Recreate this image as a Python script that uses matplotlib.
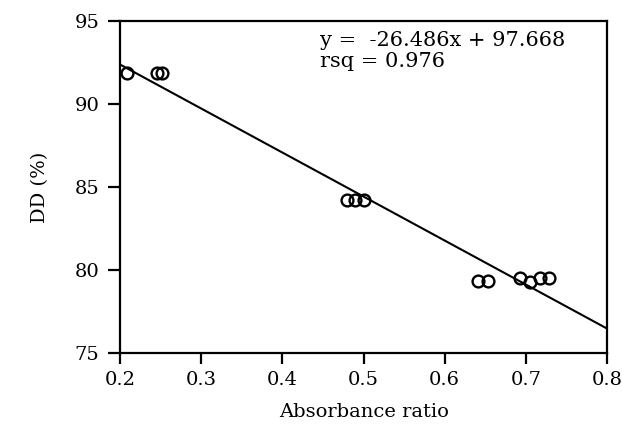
import numpy as np
import matplotlib
matplotlib.use("Agg")
import matplotlib.pyplot as plt

absorbance = [0.209, 0.245, 0.252,
              0.480, 0.490, 0.501,
              0.641, 0.653,
              0.693, 0.705, 0.717, 0.728]
dd_percent = [91.85, 91.85, 91.85,
              84.2, 84.2, 84.2,
              79.35, 79.35,
              79.5, 79.3, 79.5, 79.5]

# regression reported on the chart
fit_slope = -26.486
fit_intercept = 97.668
fit_rsq = 0.976

x_ticks = [0.2, 0.3, 0.4, 0.5, 0.6, 0.7, 0.8]
y_ticks = [75, 80, 85, 90, 95]

plt.rcParams['font.family'] = ['DejaVu Serif']

fig = plt.figure(figsize=(6.22, 4.25), dpi=100)
ax = fig.add_axes([0.193, 0.169, 0.783, 0.782])

# fitted line across the x range
xs = np.array([x_ticks[0], x_ticks[-1]])
ax.plot(xs, fit_slope * xs + fit_intercept, color='black', lw=1.5)

ax.plot(absorbance, dd_percent, linestyle='none', marker='o',
        markersize=8.5, markerfacecolor='none', markeredgecolor='black',
        markeredgewidth=1.7)

ax.set_xlim(0.2, 0.8)
ax.set_ylim(75, 95)
ax.set_xticks(x_ticks)
ax.set_xticklabels([f'{t:.1f}' for t in x_ticks])
ax.set_yticks(y_ticks)

for s in ax.spines.values():
    s.set_linewidth(1.6)
ax.tick_params(direction='out', length=8, width=1.6, labelsize=14, pad=5)
ax.tick_params(axis='y', length=9, pad=6)

ax.set_xlabel('Absorbance ratio', fontsize=14, labelpad=10)
ax.set_ylabel('DD (%)', fontsize=14, labelpad=18)

ax.text(0.41, 0.925, f'y =  {fit_slope}x + {fit_intercept}',
        transform=ax.transAxes, fontsize=15, va='baseline')
ax.text(0.41, 0.86, f'rsq = {fit_rsq}',
        transform=ax.transAxes, fontsize=15, va='baseline')

fig.savefig('out.png', dpi=100)
